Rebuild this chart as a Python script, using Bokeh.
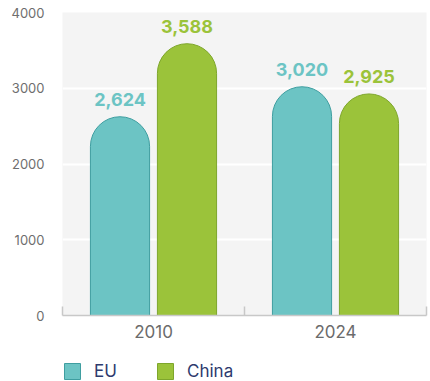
from bokeh.plotting import figure
from bokeh.layouts import column
from bokeh.models import (Range1d, FixedTicker, ColumnDataSource, LabelSet, Legend, LegendItem)
from bokeh.core.properties import value
from bokeh.embed import file_html
from bokeh.resources import INLINE

# ---- data ----
years = ["2010", "2024"]
eu_values = [2624, 3020]
china_values = [3588, 2925]
series_names = ["EU", "China"]
y_ticks = [0, 1000, 2000, 3000, 4000]

TEAL = "#6cc4c4"
TEAL_LINE = "#3f9ea0"
GREEN = "#9bc33a"
GREEN_LINE = "#7ea62c"
FONT = "Inter"

n = len(years)
xs = list(range(n))
offset = 0.184
bar_w = 0.325

p = figure(width=430, height=350, output_backend="svg", toolbar_location=None,
           x_range=Range1d(-0.5, n - 0.5), y_range=Range1d(0, 4000),
           min_border_left=62, min_border_right=4, min_border_top=12, min_border_bottom=35)
p.outline_line_color = None
p.background_fill_color = "#f4f4f4"
p.border_fill_color = "white"

eu_src = ColumnDataSource(dict(x=[x - offset for x in xs], top=eu_values,
                               text=[f"{v:,}" for v in eu_values]))
cn_src = ColumnDataSource(dict(x=[x + offset for x in xs], top=china_values,
                               text=[f"{v:,}" for v in china_values]))

bar_styles = [dict(fill_color=TEAL, line_color=TEAL_LINE, line_width=1),
              dict(fill_color=GREEN, line_color=GREEN_LINE, line_width=1)]

p.vbar(x="x", top="top", bottom=0, width=bar_w, source=eu_src,
       border_radius=(30, 30, 0, 0), **bar_styles[0])
p.vbar(x="x", top="top", bottom=0, width=bar_w, source=cn_src,
       border_radius=(30, 30, 0, 0), **bar_styles[1])

for src, col in ((eu_src, TEAL), (cn_src, GREEN)):
    p.add_layout(LabelSet(x="x", y="top", text="text", source=src, y_offset=17,
                          text_align="center", text_baseline="middle",
                          text_font=value(FONT), text_font_style="bold",
                          text_font_size="18px", text_color=col))

# grid
p.xgrid.grid_line_color = None
p.ygrid.grid_line_color = "white"
p.ygrid.grid_line_width = 2
p.ygrid.ticker = FixedTicker(ticks=y_ticks)

# y axis
p.yaxis.ticker = FixedTicker(ticks=y_ticks)
p.yaxis.axis_line_color = None
p.yaxis.major_tick_line_color = None
p.yaxis.minor_tick_line_color = None
p.yaxis.major_label_standoff = 12
p.yaxis.major_label_text_font = FONT
p.yaxis.major_label_text_font_size = "13px"
p.yaxis.major_label_text_color = "#6e6e6e"

# x axis
p.xaxis.ticker = FixedTicker(ticks=xs, minor_ticks=[x - 0.5 for x in xs] + [n - 0.5])
p.xaxis.major_label_overrides = {x: y for x, y in zip(xs, years)}
p.xaxis.major_tick_line_color = None
p.xaxis.minor_tick_line_color = "#c8c8c8"
p.xaxis.minor_tick_line_width = 1.5
p.xaxis.minor_tick_in = 9
p.xaxis.minor_tick_out = 0
p.xaxis.axis_line_color = "#c8c8c8"
p.xaxis.axis_line_width = 1.5
p.xaxis.major_label_standoff = 3
p.xaxis.major_label_text_font = FONT
p.xaxis.major_label_text_font_size = "17px"
p.xaxis.major_label_text_color = "#6b6b6b"

# ---- legend strip ----
lg = figure(width=430, height=31, output_backend="svg", toolbar_location=None,
            x_range=Range1d(0, 1), y_range=Range1d(0, 1),
            x_axis_type=None, y_axis_type=None,
            min_border_left=62, min_border_right=0, min_border_top=0, min_border_bottom=0)
lg.outline_line_color = None
lg.grid.visible = False
dummy = ColumnDataSource(dict(x=[-10], top=[-10]))
lr = [lg.vbar(x="x", top="top", bottom=-11, width=0.1, source=dummy, **st) for st in bar_styles]

legend = Legend(items=[LegendItem(label=name, renderers=[r]) for name, r in zip(series_names, lr)],
                location="bottom_left", orientation="horizontal",
                glyph_width=20, glyph_height=20, label_standoff=12,
                label_width=51, spacing=10, padding=0, margin=0,
                border_line_color=None, background_fill_alpha=0,
                label_text_font=FONT, label_text_font_size="17px",
                label_text_color="#2e3b6e")
lg.add_layout(legend, "center")

layout = column(p, lg, spacing=0)
open("out.html", "w").write(file_html(layout, INLINE))
